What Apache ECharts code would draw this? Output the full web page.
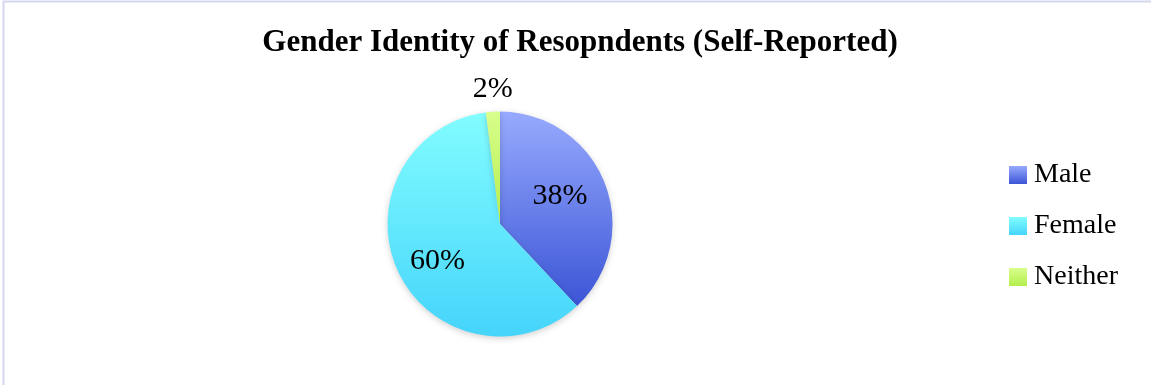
<!DOCTYPE html>
<html>
<head>
<meta charset="utf-8">
<script src="https://cdn.jsdelivr.net/npm/echarts@6/dist/echarts.min.js"></script>
<style>
  html, body { margin: 0; padding: 0; background: #ffffff; }
  #chart { width: 1151px; height: 385px; }
</style>
</head>
<body>
<div id="chart"></div>
<script>
// Self-reported gender identity shares (percent)
const categories = ['Male', 'Female', 'Neither'];
const shares = [38, 60, 2];

// Top / bottom colours of each slice's vertical gradient
const topColors = ['#97aafe', '#82fdff', '#d8fe8c'];
const bottomColors = ['#3b55d6', '#45d4fb', '#b4ee4c'];

const SERIF = '"Liberation Serif", "DejaVu Serif", serif';

function gradient(i) {
  return new echarts.graphic.LinearGradient(0, 0, 0, 1, [
    { offset: 0, color: topColors[i] },
    { offset: 1, color: bottomColors[i] }
  ]);
}

const data = categories.map((name, i) => ({
  name: name,
  value: shares[i],
  itemStyle: { color: gradient(i) },
  label: i === 2
    ? { position: 'outside' }
    : { position: 'inside' },
  labelLine: { show: false }
}));

// Nudges for the percentage labels, by slice
const labelNudge = [[5, -6], [-9, 12], [5, -19]];

const chart = echarts.init(document.getElementById('chart'), null, { renderer: 'canvas' });
chart.setOption({
  animation: false,
  backgroundColor: '#ffffff',
  graphic: [{
    type: 'rect',
    shape: { x: 3.5, y: 1.5, width: 1200, height: 420 },
    style: { fill: 'none', stroke: '#d5d7ee', lineWidth: 2 },
    silent: true
  }],
  title: {
    text: 'Gender Identity of Resopndents (Self-Reported)',
    left: 575,
    top: 22,
    textAlign: 'center',
    textStyle: {
      fontFamily: SERIF,
      fontWeight: 'bold',
      fontSize: 31,
      color: '#000000'
    }
  },
  legend: {
    orient: 'vertical',
    left: 1004,
    top: 156,
    itemWidth: 18,
    itemHeight: 18,
    itemGap: 23,
    icon: 'rect',
    textStyle: {
      fontFamily: SERIF,
      fontSize: 28,
      color: '#000000',
      padding: [0, 0, 0, 2]
    },
    data: categories
  },
  series: [{
    type: 'pie',
    center: [500, 224],
    radius: 112.5,
    startAngle: 90,
    clockwise: true,
    data: data,
    label: {
      show: true,
      formatter: '{d}%',
      fontFamily: SERIF,
      fontSize: 30,
      color: '#000000'
    },
    labelLine: { show: false, length: 4, length2: 0 },
    labelLayout: function (params) {
      const n = labelNudge[params.dataIndex];
      const out = { dx: n[0], dy: n[1] };
      if (params.dataIndex === 2) out.align = 'center';
      return out;
    },
    itemStyle: {
      shadowBlur: 6,
      shadowColor: 'rgba(0,0,0,0.18)',
      shadowOffsetY: 2
    },
    emphasis: { disabled: true }
  }]
});
</script>
</body>
</html>
